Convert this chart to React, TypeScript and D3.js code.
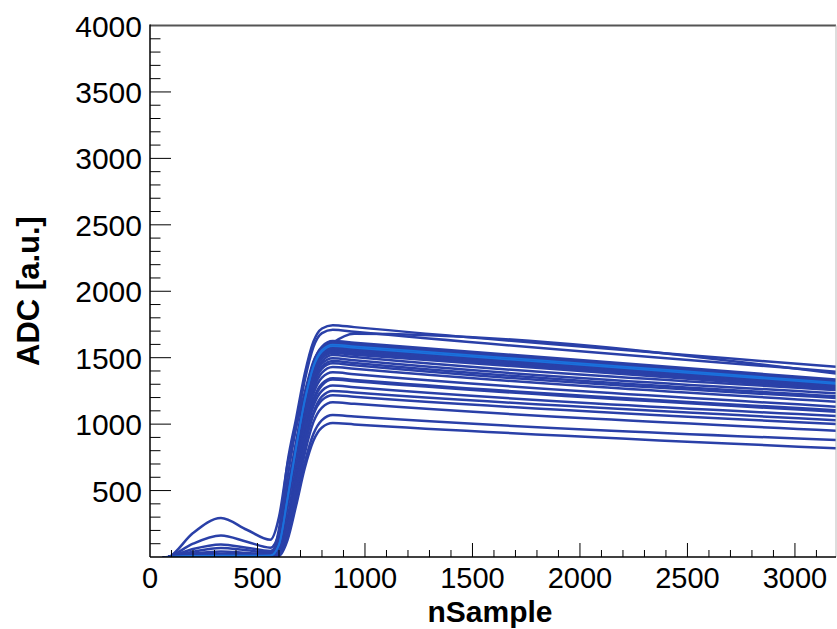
import React from "react";
import * as d3 from "d3";

const nSampleGrid = [0, 90, 200, 330, 450, 560, 600, 640, 680, 720, 760, 800, 850, 950, 3191];

// waveforms, values in ADC [a.u.] at nSampleGrid
const waveTop1 = [-40, 0, 6, 9, 8, 20, 210, 715, 1045, 1380, 1620, 1720, 1745, 1730, 1432];
const waveTop2 = [-40, 0, 5, 7, 7, 10, 150, 600, 980, 1330, 1580, 1685, 1710, 1695, 1395];
const waveTop3 = [-40, 0, 4, 6, 6, 5, 60, 400, 800, 1150, 1400, 1540, 1610, 1680, 1380];

const waveBand01 = [-40, 0, 8, 10, 9, 12, 98, 455, 845, 1203, 1463, 1584, 1625, 1612, 1335];
const waveBand02 = [-40, 0, 180, 293, 205, 130, 300, 700, 980, 1240, 1470, 1575, 1615, 1602, 1326];
const waveBand03 = [-40, 0, 100, 162, 115, 70, 180, 520, 870, 1200, 1445, 1565, 1605, 1592, 1318];
const waveBand04 = [-40, 0, 5, 7, 6, 8, 96, 447, 831, 1183, 1438, 1558, 1598, 1585, 1312];
const waveBand05 = [-40, 0, 60, 95, 70, 45, 140, 470, 840, 1180, 1431, 1550, 1590, 1577, 1305];
const waveBand06 = [-40, 0, 12, 15, 14, 18, 120, 480, 850, 1190, 1424, 1542, 1582, 1569, 1298];
const waveBand07 = [-40, 0, 40, 68, 50, 35, 110, 441, 819, 1166, 1418, 1536, 1575, 1562, 1292];
const waveBand08 = [-40, 0, 3, 5, 5, 6, 70, 400, 790, 1150, 1409, 1526, 1565, 1552, 1284];
const waveBand09 = [-40, 0, 25, 42, 30, 20, 93, 435, 809, 1151, 1400, 1516, 1555, 1543, 1276];
const waveBand10 = [-40, 0, 7, 9, 8, 10, 60, 380, 770, 1120, 1380, 1500, 1545, 1533, 1268];
const waveBand11 = [-40, 0, 20, 25, 22, 25, 110, 450, 810, 1140, 1382, 1497, 1535, 1523, 1260];
const waveBand12 = [-40, 0, 6, 8, 8, 10, 80, 420, 820, 1180, 1450, 1570, 1610, 1598, 1322];
const waveBand13 = [-40, 0, 9, 11, 10, 12, 90, 440, 825, 1175, 1428, 1546, 1587, 1574, 1302];

const waveLow01 = [-40, 0, 6, 8, 8, 8, 30, 258, 654, 1049, 1338, 1474, 1520, 1505, 1257];
const waveLow02 = [-40, 0, 10, 12, 11, 12, 45, 290, 680, 1060, 1330, 1455, 1495, 1480, 1232];
const waveLow03 = [-40, 0, 4, 6, 6, 6, 30, 251, 634, 1018, 1298, 1431, 1475, 1460, 1210];
const waveLow04 = [-40, 0, 8, 10, 9, 10, 40, 270, 650, 1020, 1290, 1418, 1458, 1443, 1196];
const waveLow05 = [-40, 0, 5, 7, 7, 7, 29, 243, 615, 987, 1258, 1387, 1430, 1416, 1169];
const waveLow06 = [-40, 0, 14, 18, 16, 18, 50, 260, 620, 975, 1228, 1350, 1390, 1376, 1131];
const waveLow07 = [-40, 0, 6, 8, 8, 8, 27, 229, 578, 928, 1184, 1305, 1345, 1332, 1105];
const waveLow08 = [-40, 0, 3, 5, 5, 5, 20, 200, 540, 900, 1165, 1292, 1335, 1322, 1094];
const waveLow09 = [-40, 0, 7, 9, 8, 9, 26, 219, 555, 890, 1135, 1251, 1290, 1277, 1061];
const waveLow10 = [-40, 0, 5, 6, 6, 6, 15, 180, 500, 840, 1085, 1208, 1250, 1238, 1030];
const waveLow11 = [-40, 0, 9, 12, 11, 12, 24, 207, 524, 840, 1072, 1181, 1218, 1206, 1000];
const waveLow12 = [-40, 0, 4, 6, 6, 6, 12, 160, 460, 780, 1015, 1125, 1165, 1153, 950];
const waveLow13 = [-40, 0, 6, 8, 7, 7, 15, 150, 420, 710, 925, 1030, 1068, 1057, 880];
const waveLow14 = [-40, 0, 5, 7, 6, 6, 10, 130, 390, 670, 875, 975, 1008, 998, 818];

const waveforms = [
  waveTop1, waveTop2, waveTop3,
  waveBand01, waveBand02, waveBand03, waveBand04, waveBand05, waveBand06, waveBand07,
  waveBand08, waveBand09, waveBand10, waveBand11, waveBand12, waveBand13,
  waveLow01, waveLow02, waveLow03, waveLow04, waveLow05, waveLow06, waveLow07,
  waveLow08, waveLow09, waveLow10, waveLow11, waveLow12, waveLow13, waveLow14,
];
// densest traces, drawn in the lighter palette colour on top
const denseWaveforms = [waveBand04, waveBand13];

const xTickLabels = ["0", "500", "1000", "1500", "2000", "2500", "3000"];
const yTickLabels = ["500", "1000", "1500", "2000", "2500", "3000", "3500", "4000"];

const W = 837;
const H = 629;
const left = 150;
const right = 836;
const top = 25.5;
const bottom = 557;
const FONT = "'Liberation Sans', Arial, Helvetica, sans-serif";

export default function App() {
  const x = d3.scaleLinear().domain([0, 3191]).range([left, right]);
  const y = d3.scaleLinear().domain([0, 4000]).range([bottom, top]);

  const line = d3
    .line<number>()
    .x((_, i) => x(nSampleGrid[i]))
    .y((d) => y(d))
    .curve(d3.curveMonotoneX);

  const xMinor = d3.range(100, 3191, 100);
  const yMinor = d3.range(100, 4000, 100);

  return (
    <svg
      width={W}
      height={H}
      style={{ position: "absolute", left: 0, top: 0, background: "#fff" }}
    >
      <defs>
        <clipPath id="plot">
          <rect x={left} y={top} width={right - left} height={bottom - top} />
        </clipPath>
      </defs>
      <rect x={0} y={0} width={W} height={H} fill="#fff" />

      <g clipPath="url(#plot)" fill="none">
        {waveforms.map((w, i) => (
          <path key={i} d={line(w) || ""} stroke="#2a40a8" strokeWidth={2.5} />
        ))}
        {denseWaveforms.map((w, i) => (
          <path key={"d" + i} d={line(w) || ""} stroke="#1a70dc" strokeWidth={1.8} />
        ))}
      </g>

      {/* frame */}
      <line x1={left} x2={right} y1={top} y2={top} stroke="#555" strokeWidth={2} />
      <line x1={right} x2={right} y1={top} y2={bottom} stroke="#bbb" strokeWidth={1} />
      <line x1={left} x2={left} y1={top - 1} y2={bottom} stroke="#000" strokeWidth={1.5} />
      <line x1={left} x2={right} y1={bottom} y2={bottom} stroke="#000" strokeWidth={1.5} />

      {/* y ticks */}
      {yMinor.map((v) => (
        <line
          key={"ym" + v}
          x1={left}
          x2={left + (v % 500 === 0 ? 21 : 10.5)}
          y1={y(v)}
          y2={y(v)}
          stroke="#000"
          strokeWidth={1}
        />
      ))}
      {yTickLabels.map((t) => (
        <text
          key={"yl" + t}
          x={142}
          y={y(+t) + 11}
          textAnchor="end"
          fontFamily={FONT}
          fontSize={30}
          fill="#000"
        >
          {t}
        </text>
      ))}

      {/* x ticks */}
      {xMinor.map((v) => (
        <line
          key={"xm" + v}
          x1={x(v)}
          x2={x(v)}
          y1={bottom}
          y2={bottom - (v % 500 === 0 ? 14 : 7)}
          stroke="#000"
          strokeWidth={1}
        />
      ))}
      {xTickLabels.map((t) => (
        <text
          key={"xl" + t}
          x={x(+t)}
          y={588}
          textAnchor="middle"
          fontFamily={FONT}
          fontSize={29}
          fill="#000"
        >
          {t}
        </text>
      ))}

      {/* axis titles */}
      <text
        x={490}
        y={622}
        textAnchor="middle"
        fontFamily={FONT}
        fontSize={30}
        fontWeight="bold"
        fill="#000"
      >
        nSample
      </text>
      <text
        transform="translate(39,291) rotate(-90)"
        textAnchor="middle"
        fontFamily={FONT}
        fontSize={31}
        fontWeight="bold"
        fill="#000"
      >
        ADC [a.u.]
      </text>
    </svg>
  );
}
